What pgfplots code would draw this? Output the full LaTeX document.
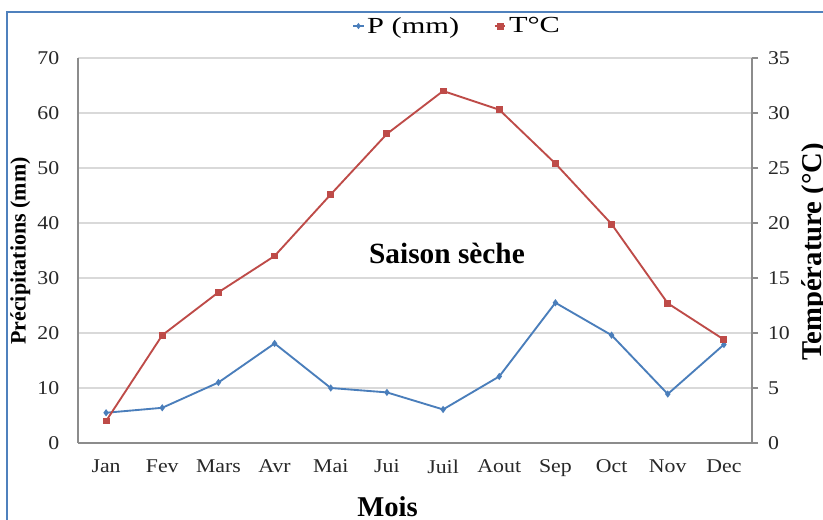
\documentclass[border=0pt]{standalone}
\usepackage{fontspec}
\setmainfont{Liberation Serif}
\newfontfamily\legfont{Liberation Serif}[FakeStretch=1.32]
\newfontfamily\tickfont{Liberation Serif}[FakeStretch=1.12]
\usepackage{pgfplots}
\pgfplotsset{compat=1.18}
\definecolor{pblue}{RGB}{74,126,187}
\definecolor{tred}{RGB}{190,75,72}
\definecolor{gridc}{RGB}{217,217,217}
\definecolor{axc}{RGB}{140,140,140}
\definecolor{frameblue}{RGB}{79,129,189}
\definecolor{txtc}{RGB}{40,40,40}
\begin{document}
\begin{tikzpicture}[x=0.75pt,y=0.75pt]
\useasboundingbox (0,0) rectangle (823,520);
\fill[white] (0,0) rectangle (823,520);
\begin{scope}
\clip (0,0) rectangle (823,520);
\draw[frameblue, line width=1.5pt] (7,-5) -- (7,508) -- (830,508);
\begin{axis}[
  at={(58.5pt,57.75pt)}, anchor=south west,
  scale only axis, width=505.5pt, height=288.75pt,
  xmin=-0.5, xmax=11.5, ymin=0, ymax=70,
  axis x line*=bottom, axis y line*=left,
  axis line style={axc, line width=0.9pt},
  xtick={0,...,11},
  xticklabels={Jan,Fev,Mars,Avr,Mai,Jui,Juil,Aout,Sep,Oct,Nov,Dec},
  ytick={0,10,...,70},
  major tick length=0pt,
  ymajorgrids, grid style={gridc, line width=0.9pt},
  /pgf/number format/assume math mode=true,
  tick label style={font=\tickfont\fontsize{14.6}{17}\selectfont, text=txtc},
  xticklabel style={yshift=-9pt},
  yticklabel style={xshift=-10.5pt},
]
\addplot[pblue, line width=1.4pt, mark=diamond*, mark size=1.6pt, mark options={solid}]
  coordinates {(0,5.5) (1,6.4) (2,11.0) (3,18.1) (4,10.0) (5,9.2) (6,6.1) (7,12.1) (8,25.5) (9,19.6) (10,8.9) (11,17.9)};
\end{axis}
\begin{axis}[
  at={(58.5pt,57.75pt)}, anchor=south west,
  scale only axis, width=505.5pt, height=288.75pt,
  xmin=-0.5, xmax=11.5, ymin=0, ymax=35,
  axis x line=none, axis y line*=right,
  axis line style={axc, line width=0.9pt},
  ytick={0,5,...,35},
  tick align=outside, major tick length=4.5pt,
  ytick style={axc, line width=0.9pt},
  /pgf/number format/assume math mode=true,
  tick label style={font=\tickfont\fontsize{14.6}{17}\selectfont, text=txtc},
  yticklabel style={xshift=4pt},
  legend style={at={(0.563,1.083)}, anchor=center, draw=none, fill=none,
    legend columns=2, font=\legfont\fontsize{17.25}{20}\selectfont,
    /tikz/every even column/.append style={column sep=24pt},
    inner sep=0pt, cells={anchor=west}},
  legend image code/.code={\draw[mark repeat=2,mark phase=2,#1] plot coordinates {(0pt,0pt) (4pt,0pt) (8pt,0pt)};},
]
\addlegendimage{pblue, line width=1.2pt, mark=diamond*, mark size=1.4pt}
\addlegendentry{P (mm)}
\addplot[tred, line width=1.4pt, mark=square*, mark size=1.9pt, mark options={solid}]
  coordinates {(0,2.0) (1,9.8) (2,13.7) (3,17.0) (4,22.6) (5,28.1) (6,32.0) (7,30.3) (8,25.4) (9,19.9) (10,12.7) (11,9.4)};
\addlegendentry{T°C}
\end{axis}
\node[rotate=90, anchor=base, font=\bfseries\fontsize{16.5}{18}\selectfont] at (25.5,269) {Précipitations (mm)};
\node[rotate=90, anchor=base, font=\bfseries\fontsize{21.5}{24}\selectfont] at (821,268) {Température (°C)};
\node[anchor=base, font=\bfseries\fontsize{21.5}{24}\selectfont] at (387.5,3.3) {Mois};
\node[anchor=base, font=\bfseries\fontsize{22}{24}\selectfont] at (447,256.7) {Saison sèche};
\end{scope}
\end{tikzpicture}
\end{document}
